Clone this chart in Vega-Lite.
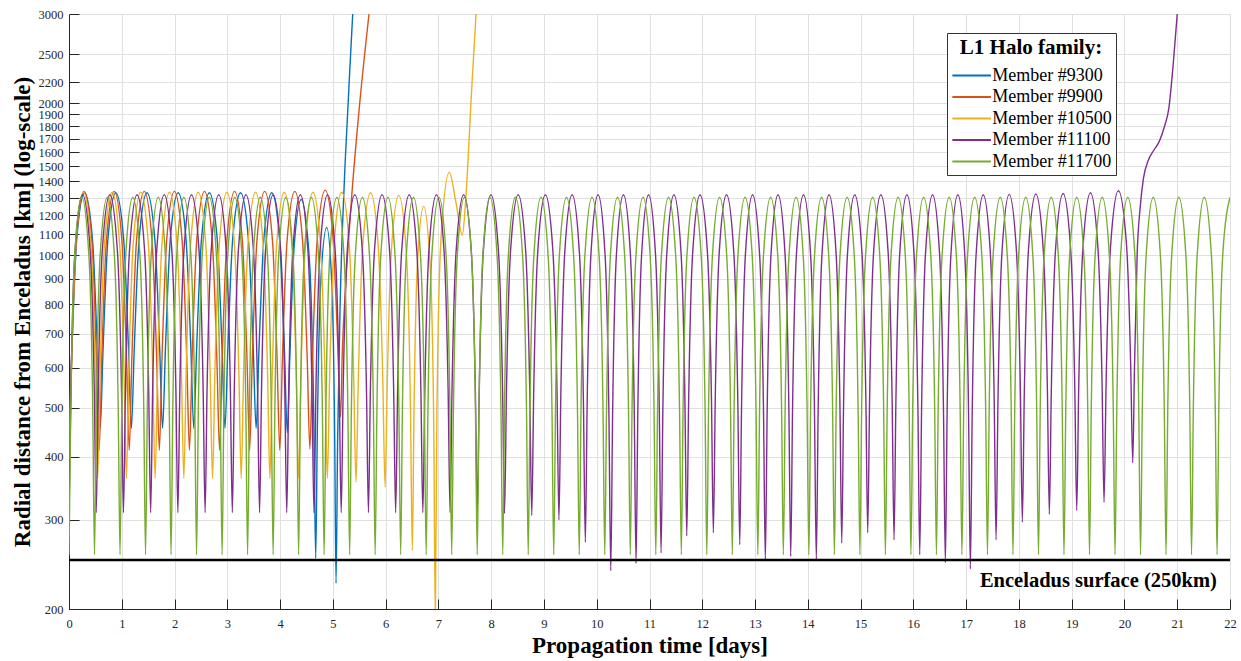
{
"$schema":"https://vega.github.io/schema/vega-lite/v6.json",
"width":1161,"height":595,
"autosize":{"type":"none"},
"padding":{"left":69,"top":14,"right":11,"bottom":52},
"background":"white",
"config":{"view":{"stroke":null}},
"datasets":{
"b":[{"t":0,"r":455},{"t":0.055,"r":656},{"t":0.146,"r":1075},{"t":0.296,"r":1330},{"t":0.445,"r":1075},{"t":0.536,"r":656},
{"t":0.591,"r":455},{"t":0.646,"r":656},{"t":0.737,"r":1075},{"t":0.887,"r":1330},{"t":1.036,"r":1075},{"t":1.127,"r":656},
{"t":1.182,"r":455},{"t":1.237,"r":656},{"t":1.328,"r":1075},{"t":1.478,"r":1330},{"t":1.627,"r":1075},{"t":1.718,"r":656},
{"t":1.773,"r":455},{"t":1.828,"r":656},{"t":1.919,"r":1075},{"t":2.069,"r":1330},{"t":2.218,"r":1075},{"t":2.309,"r":656},
{"t":2.364,"r":455},{"t":2.419,"r":656},{"t":2.51,"r":1075},{"t":2.66,"r":1330},{"t":2.809,"r":1075},{"t":2.9,"r":656},
{"t":2.955,"r":455},{"t":3.01,"r":656},{"t":3.101,"r":1075},{"t":3.251,"r":1330},{"t":3.4,"r":1075},{"t":3.491,"r":656},
{"t":3.546,"r":455},{"t":3.601,"r":656},{"t":3.692,"r":1075},{"t":3.842,"r":1330},{"t":3.991,"r":1073},{"t":4.082,"r":650},
{"t":4.137,"r":446},{"t":4.186,"r":640},{"t":4.267,"r":1044},{"t":4.4,"r":1290},{"t":4.553,"r":987},{"t":4.637,"r":490},
{"t":4.675,"r":252},{"t":4.706,"r":455},{"t":4.769,"r":878},{"t":4.883,"r":1136},{"t":4.982,"r":870},{"t":5.035,"r":434},
{"t":5.06,"r":225},{"t":5.09,"r":430},{"t":5.14,"r":816},{"t":5.217,"r":1396},{"t":5.293,"r":2030},{"t":5.376,"r":3000},{"t":5.42,"r":3500}],
"o":[{"t":0,"r":412},{"t":0.05,"r":625},{"t":0.138,"r":1068},{"t":0.285,"r":1338},{"t":0.433,"r":1068},{"t":0.52,"r":625},
{"t":0.571,"r":412},{"t":0.621,"r":625},{"t":0.709,"r":1068},{"t":0.856,"r":1338},{"t":1.003,"r":1068},{"t":1.091,"r":625},
{"t":1.141,"r":412},{"t":1.191,"r":625},{"t":1.279,"r":1068},{"t":1.426,"r":1338},{"t":1.574,"r":1068},{"t":1.661,"r":625},
{"t":1.712,"r":412},{"t":1.762,"r":625},{"t":1.85,"r":1068},{"t":1.997,"r":1338},{"t":2.144,"r":1068},{"t":2.232,"r":625},
{"t":2.282,"r":412},{"t":2.332,"r":625},{"t":2.42,"r":1068},{"t":2.567,"r":1338},{"t":2.715,"r":1068},{"t":2.802,"r":625},
{"t":2.853,"r":412},{"t":2.903,"r":625},{"t":2.991,"r":1068},{"t":3.138,"r":1338},{"t":3.285,"r":1068},{"t":3.373,"r":625},
{"t":3.423,"r":412},{"t":3.473,"r":625},{"t":3.561,"r":1068},{"t":3.708,"r":1338},{"t":3.856,"r":1068},{"t":3.943,"r":625},
{"t":3.994,"r":412},{"t":4.044,"r":625},{"t":4.132,"r":1068},{"t":4.279,"r":1338},{"t":4.426,"r":1068},{"t":4.514,"r":626},
{"t":4.564,"r":414},{"t":4.614,"r":627},{"t":4.702,"r":1069},{"t":4.855,"r":1346},{"t":5.0,"r":1093},{"t":5.09,"r":678},
{"t":5.145,"r":479},{"t":5.18,"r":650},{"t":5.245,"r":880},{"t":5.36,"r":1320},{"t":5.515,"r":2030},{"t":5.685,"r":3000},{"t":5.75,"r":3450}],
"y":[{"t":0,"r":362},{"t":0.045,"r":585},{"t":0.128,"r":1050},{"t":0.272,"r":1333},{"t":0.416,"r":1050},{"t":0.499,"r":585},
{"t":0.544,"r":362},{"t":0.589,"r":585},{"t":0.672,"r":1050},{"t":0.816,"r":1333},{"t":0.96,"r":1050},{"t":1.043,"r":585},
{"t":1.088,"r":362},{"t":1.133,"r":585},{"t":1.216,"r":1050},{"t":1.36,"r":1333},{"t":1.504,"r":1050},{"t":1.587,"r":585},
{"t":1.632,"r":362},{"t":1.677,"r":585},{"t":1.76,"r":1050},{"t":1.904,"r":1333},{"t":2.048,"r":1050},{"t":2.131,"r":585},
{"t":2.176,"r":362},{"t":2.22,"r":585},{"t":2.304,"r":1050},{"t":2.448,"r":1333},{"t":2.592,"r":1050},{"t":2.675,"r":585},
{"t":2.72,"r":362},{"t":2.764,"r":585},{"t":2.848,"r":1050},{"t":2.992,"r":1333},{"t":3.135,"r":1050},{"t":3.219,"r":585},
{"t":3.263,"r":362},{"t":3.308,"r":585},{"t":3.391,"r":1050},{"t":3.535,"r":1333},{"t":3.679,"r":1050},{"t":3.763,"r":585},
{"t":3.807,"r":362},{"t":3.852,"r":585},{"t":3.935,"r":1050},{"t":4.079,"r":1333},{"t":4.223,"r":1050},{"t":4.306,"r":585},
{"t":4.351,"r":362},{"t":4.396,"r":585},{"t":4.479,"r":1050},{"t":4.623,"r":1333},{"t":4.767,"r":1050},{"t":4.85,"r":585},
{"t":4.895,"r":362},{"t":4.94,"r":585},{"t":5.023,"r":1050},{"t":5.167,"r":1333},{"t":5.311,"r":1048},{"t":5.394,"r":581},
{"t":5.439,"r":356},{"t":5.484,"r":581},{"t":5.567,"r":1048},{"t":5.715,"r":1330},{"t":5.86,"r":1043},{"t":5.945,"r":574},
{"t":5.99,"r":348},{"t":6.032,"r":570},{"t":6.111,"r":1032},{"t":6.25,"r":1314},{"t":6.393,"r":1006},{"t":6.47,"r":503},
{"t":6.506,"r":261},{"t":6.537,"r":488},{"t":6.602,"r":961},{"t":6.72,"r":1250},{"t":6.847,"r":940},{"t":6.914,"r":434},
{"t":6.941,"r":190},{"t":6.971,"r":482},{"t":7.051,"r":1088},{"t":7.207,"r":1459},{"t":7.33,"r":1277},{"t":7.453,"r":1096},
{"t":7.52,"r":1300},{"t":7.62,"r":2030},{"t":7.713,"r":3000},{"t":7.76,"r":3500}],
"p":[{"t":0,"r":310},{"t":0.037,"r":542},{"t":0.116,"r":1024},{"t":0.258,"r":1318},{"t":0.4,"r":1024},{"t":0.479,"r":542},
{"t":0.516,"r":310},{"t":0.553,"r":542},{"t":0.631,"r":1024},{"t":0.774,"r":1318},{"t":0.916,"r":1024},{"t":0.995,"r":542},
{"t":1.032,"r":310},{"t":1.069,"r":542},{"t":1.147,"r":1024},{"t":1.29,"r":1318},{"t":1.432,"r":1024},{"t":1.51,"r":542},
{"t":1.547,"r":310},{"t":1.585,"r":542},{"t":1.663,"r":1024},{"t":1.805,"r":1318},{"t":1.948,"r":1024},{"t":2.026,"r":542},
{"t":2.063,"r":310},{"t":2.1,"r":542},{"t":2.179,"r":1024},{"t":2.321,"r":1318},{"t":2.464,"r":1024},{"t":2.542,"r":542},
{"t":2.579,"r":310},{"t":2.616,"r":542},{"t":2.695,"r":1024},{"t":2.837,"r":1318},{"t":2.979,"r":1024},{"t":3.058,"r":542},
{"t":3.095,"r":310},{"t":3.132,"r":542},{"t":3.21,"r":1024},{"t":3.353,"r":1318},{"t":3.495,"r":1024},{"t":3.573,"r":542},
{"t":3.611,"r":310},{"t":3.648,"r":542},{"t":3.726,"r":1024},{"t":3.868,"r":1318},{"t":4.011,"r":1024},{"t":4.089,"r":542},
{"t":4.126,"r":310},{"t":4.164,"r":542},{"t":4.242,"r":1024},{"t":4.384,"r":1318},{"t":4.527,"r":1024},{"t":4.605,"r":542},
{"t":4.642,"r":310},{"t":4.679,"r":542},{"t":4.758,"r":1024},{"t":4.9,"r":1318},{"t":5.043,"r":1024},{"t":5.121,"r":542},
{"t":5.158,"r":310},{"t":5.195,"r":542},{"t":5.274,"r":1024},{"t":5.416,"r":1318},{"t":5.558,"r":1024},{"t":5.637,"r":542},
{"t":5.674,"r":310},{"t":5.711,"r":542},{"t":5.789,"r":1024},{"t":5.932,"r":1318},{"t":6.074,"r":1024},{"t":6.152,"r":542},
{"t":6.19,"r":310},{"t":6.227,"r":542},{"t":6.305,"r":1024},{"t":6.448,"r":1318},{"t":6.59,"r":1024},{"t":6.668,"r":542},
{"t":6.705,"r":310},{"t":6.743,"r":542},{"t":6.821,"r":1024},{"t":6.963,"r":1318},{"t":7.106,"r":1024},{"t":7.184,"r":542},
{"t":7.221,"r":310},{"t":7.258,"r":542},{"t":7.337,"r":1024},{"t":7.479,"r":1318},{"t":7.622,"r":1024},{"t":7.7,"r":542},
{"t":7.737,"r":310},{"t":7.774,"r":542},{"t":7.853,"r":1024},{"t":7.995,"r":1318},{"t":8.137,"r":1024},{"t":8.216,"r":541},
{"t":8.253,"r":309},{"t":8.29,"r":541},{"t":8.368,"r":1024},{"t":8.511,"r":1318},{"t":8.653,"r":1022},{"t":8.731,"r":539},
{"t":8.769,"r":306},{"t":8.806,"r":539},{"t":8.884,"r":1022},{"t":9.027,"r":1318},{"t":9.169,"r":1021},{"t":9.248,"r":534},
{"t":9.284,"r":300},{"t":9.32,"r":534},{"t":9.396,"r":1021},{"t":9.534,"r":1318},{"t":9.672,"r":1012},{"t":9.748,"r":512},
{"t":9.784,"r":271},{"t":9.819,"r":512},{"t":9.892,"r":1012},{"t":10.025,"r":1318},{"t":10.158,"r":1003},{"t":10.231,"r":486},
{"t":10.266,"r":238},{"t":10.301,"r":486},{"t":10.373,"r":1003},{"t":10.506,"r":1318},{"t":10.638,"r":1005},{"t":10.711,"r":493},
{"t":10.745,"r":246},{"t":10.779,"r":493},{"t":10.851,"r":1005},{"t":10.982,"r":1318},{"t":11.113,"r":1008},{"t":11.185,"r":502},
{"t":11.219,"r":258},{"t":11.254,"r":502},{"t":11.328,"r":1008},{"t":11.463,"r":1318},{"t":11.597,"r":1015},{"t":11.671,"r":518},
{"t":11.706,"r":279},{"t":11.742,"r":518},{"t":11.819,"r":1015},{"t":11.958,"r":1318},{"t":12.097,"r":1016},{"t":12.174,"r":521},
{"t":12.21,"r":283},{"t":12.246,"r":521},{"t":12.322,"r":1016},{"t":12.46,"r":1318},{"t":12.598,"r":1011},{"t":12.674,"r":510},
{"t":12.71,"r":268},{"t":12.745,"r":510},{"t":12.819,"r":1011},{"t":12.953,"r":1318},{"t":13.086,"r":1006},{"t":13.16,"r":496},
{"t":13.195,"r":250},{"t":13.23,"r":496},{"t":13.303,"r":1006},{"t":13.436,"r":1318},{"t":13.568,"r":1007},{"t":13.641,"r":499},
{"t":13.676,"r":254},{"t":13.711,"r":499},{"t":13.785,"r":1007},{"t":13.919,"r":1318},{"t":14.052,"r":1006},{"t":14.126,"r":496},
{"t":14.161,"r":250},{"t":14.196,"r":496},{"t":14.269,"r":1006},{"t":14.402,"r":1318},{"t":14.535,"r":1012},{"t":14.608,"r":511},
{"t":14.643,"r":270},{"t":14.678,"r":511},{"t":14.753,"r":1012},{"t":14.889,"r":1318},{"t":15.025,"r":1016},{"t":15.1,"r":521},
{"t":15.135,"r":283},{"t":15.171,"r":521},{"t":15.247,"r":1016},{"t":15.385,"r":1318},{"t":15.522,"r":1013},{"t":15.598,"r":514},
{"t":15.634,"r":274},{"t":15.669,"r":514},{"t":15.743,"r":1013},{"t":15.878,"r":1318},{"t":16.012,"r":1008},{"t":16.086,"r":500},
{"t":16.121,"r":256},{"t":16.156,"r":500},{"t":16.23,"r":1008},{"t":16.364,"r":1318},{"t":16.497,"r":1005},{"t":16.571,"r":493},
{"t":16.606,"r":247},{"t":16.64,"r":493},{"t":16.712,"r":1005},{"t":16.843,"r":1318},{"t":16.974,"r":1003},{"t":17.046,"r":488},
{"t":17.08,"r":240},{"t":17.115,"r":488},{"t":17.189,"r":1003},{"t":17.324,"r":1318},{"t":17.458,"r":1013},{"t":17.532,"r":514},
{"t":17.567,"r":274},{"t":17.603,"r":514},{"t":17.679,"r":1013},{"t":17.816,"r":1320},{"t":17.953,"r":1020},{"t":18.029,"r":532},
{"t":18.065,"r":297},{"t":18.102,"r":532},{"t":18.18,"r":1020},{"t":18.321,"r":1322},{"t":18.462,"r":1023},{"t":18.54,"r":540},
{"t":18.577,"r":308},{"t":18.614,"r":540},{"t":18.693,"r":1023},{"t":18.837,"r":1325},{"t":18.98,"r":1030},{"t":19.059,"r":546},
{"t":19.096,"r":313},{"t":19.133,"r":546},{"t":19.212,"r":1030},{"t":19.355,"r":1330},{"t":19.497,"r":1037},{"t":19.576,"r":556},
{"t":19.613,"r":325},{"t":19.652,"r":556},{"t":19.735,"r":1037},{"t":19.885,"r":1342},{"t":20.035,"r":1064},{"t":20.118,"r":608},
{"t":20.157,"r":389},{"t":20.19,"r":600},{"t":20.24,"r":1000},{"t":20.3,"r":1250},{"t":20.36,"r":1420},{"t":20.45,"r":1540},
{"t":20.55,"r":1610},{"t":20.66,"r":1680},{"t":20.76,"r":1800},{"t":20.84,"r":1950},{"t":20.93,"r":2430},{"t":21.0,"r":3000},{"t":21.04,"r":3400}],
"g":[{"t":0,"r":256},{"t":0.034,"r":497},{"t":0.107,"r":999},{"t":0.242,"r":1303},{"t":0.377,"r":999},{"t":0.45,"r":497},
{"t":0.483,"r":256},{"t":0.517,"r":497},{"t":0.59,"r":999},{"t":0.725,"r":1303},{"t":0.86,"r":999},{"t":0.933,"r":497},
{"t":0.967,"r":256},{"t":1.0,"r":497},{"t":1.074,"r":999},{"t":1.209,"r":1303},{"t":1.344,"r":999},{"t":1.417,"r":497},
{"t":1.45,"r":256},{"t":1.484,"r":497},{"t":1.557,"r":999},{"t":1.692,"r":1303},{"t":1.827,"r":999},{"t":1.9,"r":497},
{"t":1.934,"r":256},{"t":1.967,"r":497},{"t":2.041,"r":999},{"t":2.176,"r":1303},{"t":2.31,"r":999},{"t":2.384,"r":497},
{"t":2.417,"r":256},{"t":2.451,"r":497},{"t":2.524,"r":999},{"t":2.659,"r":1303},{"t":2.794,"r":999},{"t":2.867,"r":497},
{"t":2.901,"r":256},{"t":2.934,"r":497},{"t":3.008,"r":999},{"t":3.142,"r":1303},{"t":3.277,"r":999},{"t":3.351,"r":497},
{"t":3.384,"r":256},{"t":3.418,"r":497},{"t":3.491,"r":999},{"t":3.626,"r":1303},{"t":3.761,"r":999},{"t":3.834,"r":497},
{"t":3.868,"r":256},{"t":3.901,"r":497},{"t":3.974,"r":999},{"t":4.109,"r":1303},{"t":4.244,"r":999},{"t":4.318,"r":497},
{"t":4.351,"r":256},{"t":4.384,"r":497},{"t":4.458,"r":999},{"t":4.593,"r":1303},{"t":4.728,"r":999},{"t":4.801,"r":497},
{"t":4.834,"r":256},{"t":4.868,"r":497},{"t":4.941,"r":999},{"t":5.076,"r":1303},{"t":5.211,"r":999},{"t":5.284,"r":497},
{"t":5.318,"r":256},{"t":5.351,"r":497},{"t":5.425,"r":999},{"t":5.56,"r":1303},{"t":5.694,"r":999},{"t":5.768,"r":497},
{"t":5.801,"r":256},{"t":5.835,"r":497},{"t":5.908,"r":999},{"t":6.043,"r":1303},{"t":6.178,"r":999},{"t":6.251,"r":497},
{"t":6.285,"r":256},{"t":6.318,"r":497},{"t":6.392,"r":999},{"t":6.526,"r":1303},{"t":6.661,"r":999},{"t":6.735,"r":497},
{"t":6.768,"r":256},{"t":6.802,"r":497},{"t":6.875,"r":999},{"t":7.01,"r":1303},{"t":7.145,"r":999},{"t":7.218,"r":497},
{"t":7.252,"r":256},{"t":7.285,"r":497},{"t":7.358,"r":999},{"t":7.493,"r":1303},{"t":7.628,"r":999},{"t":7.702,"r":497},
{"t":7.735,"r":256},{"t":7.769,"r":497},{"t":7.842,"r":999},{"t":7.977,"r":1303},{"t":8.112,"r":999},{"t":8.185,"r":497},
{"t":8.219,"r":256},{"t":8.252,"r":497},{"t":8.325,"r":999},{"t":8.46,"r":1303},{"t":8.595,"r":999},{"t":8.669,"r":497},
{"t":8.702,"r":256},{"t":8.735,"r":497},{"t":8.809,"r":999},{"t":8.944,"r":1303},{"t":9.079,"r":999},{"t":9.152,"r":497},
{"t":9.185,"r":256},{"t":9.219,"r":497},{"t":9.292,"r":999},{"t":9.427,"r":1303},{"t":9.562,"r":999},{"t":9.635,"r":497},
{"t":9.669,"r":256},{"t":9.702,"r":497},{"t":9.776,"r":999},{"t":9.911,"r":1303},{"t":10.045,"r":999},{"t":10.119,"r":497},
{"t":10.152,"r":256},{"t":10.186,"r":497},{"t":10.259,"r":999},{"t":10.394,"r":1303},{"t":10.529,"r":999},{"t":10.602,"r":497},
{"t":10.636,"r":256},{"t":10.669,"r":497},{"t":10.743,"r":999},{"t":10.877,"r":1303},{"t":11.012,"r":999},{"t":11.086,"r":497},
{"t":11.119,"r":256},{"t":11.153,"r":497},{"t":11.226,"r":999},{"t":11.361,"r":1303},{"t":11.496,"r":999},{"t":11.569,"r":497},
{"t":11.603,"r":256},{"t":11.636,"r":497},{"t":11.709,"r":999},{"t":11.844,"r":1303},{"t":11.979,"r":999},{"t":12.053,"r":497},
{"t":12.086,"r":256},{"t":12.119,"r":497},{"t":12.193,"r":999},{"t":12.328,"r":1303},{"t":12.463,"r":999},{"t":12.536,"r":497},
{"t":12.569,"r":256},{"t":12.603,"r":497},{"t":12.676,"r":999},{"t":12.811,"r":1303},{"t":12.946,"r":999},{"t":13.019,"r":497},
{"t":13.053,"r":256},{"t":13.086,"r":497},{"t":13.16,"r":999},{"t":13.295,"r":1303},{"t":13.43,"r":999},{"t":13.503,"r":497},
{"t":13.536,"r":256},{"t":13.57,"r":497},{"t":13.643,"r":999},{"t":13.778,"r":1303},{"t":13.913,"r":999},{"t":13.986,"r":497},
{"t":14.02,"r":256},{"t":14.053,"r":497},{"t":14.127,"r":999},{"t":14.261,"r":1303},{"t":14.396,"r":999},{"t":14.47,"r":497},
{"t":14.503,"r":256},{"t":14.537,"r":497},{"t":14.61,"r":999},{"t":14.745,"r":1303},{"t":14.88,"r":999},{"t":14.953,"r":497},
{"t":14.987,"r":256},{"t":15.02,"r":497},{"t":15.094,"r":999},{"t":15.228,"r":1303},{"t":15.363,"r":999},{"t":15.437,"r":497},
{"t":15.47,"r":256},{"t":15.504,"r":497},{"t":15.577,"r":999},{"t":15.712,"r":1303},{"t":15.847,"r":999},{"t":15.92,"r":497},
{"t":15.954,"r":256},{"t":15.987,"r":497},{"t":16.06,"r":999},{"t":16.195,"r":1303},{"t":16.33,"r":999},{"t":16.404,"r":497},
{"t":16.437,"r":256},{"t":16.47,"r":497},{"t":16.544,"r":999},{"t":16.679,"r":1303},{"t":16.814,"r":999},{"t":16.887,"r":497},
{"t":16.92,"r":256},{"t":16.954,"r":497},{"t":17.027,"r":999},{"t":17.162,"r":1303},{"t":17.297,"r":999},{"t":17.37,"r":497},
{"t":17.404,"r":256},{"t":17.437,"r":497},{"t":17.511,"r":999},{"t":17.646,"r":1303},{"t":17.78,"r":999},{"t":17.854,"r":497},
{"t":17.887,"r":256},{"t":17.921,"r":497},{"t":17.994,"r":999},{"t":18.129,"r":1303},{"t":18.264,"r":999},{"t":18.337,"r":497},
{"t":18.371,"r":256},{"t":18.404,"r":497},{"t":18.478,"r":999},{"t":18.612,"r":1303},{"t":18.747,"r":999},{"t":18.821,"r":497},
{"t":18.854,"r":256},{"t":18.888,"r":497},{"t":18.961,"r":999},{"t":19.096,"r":1303},{"t":19.231,"r":999},{"t":19.304,"r":497},
{"t":19.338,"r":256},{"t":19.371,"r":497},{"t":19.444,"r":999},{"t":19.579,"r":1303},{"t":19.714,"r":999},{"t":19.788,"r":497},
{"t":19.821,"r":256},{"t":19.855,"r":497},{"t":19.928,"r":999},{"t":20.063,"r":1303},{"t":20.198,"r":999},{"t":20.271,"r":497},
{"t":20.305,"r":256},{"t":20.338,"r":497},{"t":20.411,"r":999},{"t":20.546,"r":1303},{"t":20.681,"r":999},{"t":20.755,"r":497},
{"t":20.788,"r":256},{"t":20.821,"r":497},{"t":20.895,"r":999},{"t":21.03,"r":1303},{"t":21.164,"r":999},{"t":21.238,"r":497},
{"t":21.271,"r":256},{"t":21.305,"r":497},{"t":21.378,"r":999},{"t":21.513,"r":1303},{"t":21.648,"r":999},{"t":21.721,"r":497},
{"t":21.755,"r":256},{"t":21.788,"r":497},{"t":21.862,"r":999},{"t":22,"r":1303}]
},
"layer":[
{"encoding":{
 "x":{"field":"t","type":"quantitative","scale":{"domain":[0,22],"nice":false,"zero":false},
  "axis":{"values":[0,1,2,3,4,5,6,7,8,9,10,11,12,13,14,15,16,17,18,19,20,21,22],"format":"d","labelFlush":false,"labelOverlap":false,
   "labelFont":"Liberation Serif","labelFontSize":12.5,"labelColor":"#262626","labelPadding":18,
   "tickColor":"#262626","tickSize":-10,"tickWidth":1,"domainColor":"#262626","domainWidth":1,
   "grid":true,"gridColor":"#e0e0e0","gridWidth":1,
   "title":"Propagation time [days]","titleFont":"Liberation Serif","titleFontSize":23,"titleFontWeight":"bold","titleColor":"#000000",
   "titleBaseline":"alphabetic","titleY":43}},
 "y":{"field":"r","type":"quantitative","scale":{"type":"log","domain":[200,3000],"nice":false},
  "axis":{"values":[200,300,400,500,600,700,800,900,1000,1100,1200,1300,1400,1500,1600,1700,1800,1900,2000,2200,2500,3000],"format":"d","labelOverlap":false,
   "labelFont":"Liberation Serif","labelFontSize":12.5,"labelColor":"#262626","labelPadding":16,
   "tickColor":"#262626","tickSize":-10,"tickWidth":1,"domainColor":"#262626","domainWidth":1,
   "grid":true,"gridColor":"#e0e0e0","gridWidth":1,
   "title":"Radial distance from Enceladus [km] (log-scale)","titleFont":"Liberation Serif","titleFontSize":23,"titleFontWeight":"bold","titleColor":"#000000",
   "titleBaseline":"alphabetic","titleX":-39.5}}
 },
 "layer":[
  {"data":{"name":"b"},"mark":{"type":"line","interpolate":"monotone","strokeWidth":1.4,"clip":true},
   "encoding":{"color":{"datum":"Member #9300","type":"nominal",
    "scale":{"domain":["Member #9300","Member #9900","Member #10500","Member #11100","Member #11700"],"range":["#0072BD","#D95319","#EDB120","#7E2F8E","#77AC30"]},
    "legend":{"orient":"none","legendX":878,"legendY":19,"title":"L1 Halo family:","titleFont":"Liberation Serif","titleFontSize":21,"titleFontWeight":"bold","titleColor":"#000000","titleAnchor":"middle","titlePadding":6.5,
     "labelFont":"Liberation Serif","labelFontSize":18,"labelColor":"#000000","symbolType":"M-2,0H2","symbolSize":372,"symbolStrokeWidth":2,"symbolOffset":9.65,"labelOffset":9.7,"rowPadding":1.5,"padding":4,
     "strokeColor":"#333333","fillColor":"#ffffff","cornerRadius":0}}}},
  {"data":{"name":"o"},"mark":{"type":"line","interpolate":"monotone","strokeWidth":1.4,"clip":true},"encoding":{"color":{"datum":"Member #9900","type":"nominal"}}},
  {"data":{"name":"y"},"mark":{"type":"line","interpolate":"monotone","strokeWidth":1.4,"clip":true},"encoding":{"color":{"datum":"Member #10500","type":"nominal"}}},
  {"data":{"name":"p"},"mark":{"type":"line","interpolate":"monotone","strokeWidth":1.4,"clip":true},"encoding":{"color":{"datum":"Member #11100","type":"nominal"}}},
  {"data":{"name":"g"},"mark":{"type":"line","interpolate":"monotone","strokeWidth":1.4,"clip":true},"encoding":{"color":{"datum":"Member #11700","type":"nominal"}}}
 ]},
{"data":{"values":[{}]},"mark":{"type":"rule","color":"#000000","strokeWidth":2.5},"encoding":{"y":{"datum":250}}},
{"data":{"values":[{}]},"mark":{"type":"text","align":"right","baseline":"alphabetic","font":"Liberation Serif","fontWeight":"bold","fontSize":20.5,"color":"#000000"},
 "encoding":{"x":{"datum":21.75},"y":{"datum":221},"text":{"value":"Enceladus surface (250km)"}}}
]
}
